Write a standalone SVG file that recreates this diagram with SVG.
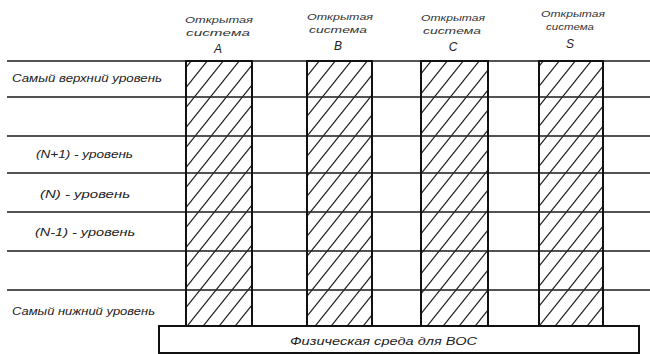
<svg xmlns="http://www.w3.org/2000/svg" width="650" height="354" viewBox="0 0 650 354">
  <style>
    .lvl { stroke: #1a1a1a; stroke-width: 1.5; fill: none; }
    .col { fill: url(#hatch); stroke: #111; stroke-width: 2; }
    .lab { font-family: "Liberation Sans", "DejaVu Sans", sans-serif; font-style: italic; font-size: 10px; fill: #222; }
    .hdr { font-family: "Liberation Sans", "DejaVu Sans", sans-serif; font-style: italic; font-size: 9px; fill: #333; text-anchor: middle; }
    .let { font-family: "Liberation Sans", "DejaVu Sans", sans-serif; font-style: italic; font-size: 12px; fill: #222; text-anchor: middle; }
    .box { fill: #fff; stroke: #111; stroke-width: 2; }
  </style>
  <defs>
    <pattern id="hatch" patternUnits="userSpaceOnUse" width="16" height="20">
      <path d="M-4,25 L20,-5 M-20,25 L4,-5 M12,25 L36,-5" stroke="#222" stroke-width="1.2" fill="none"/>
    </pattern>
  </defs>
  <rect x="0" y="0" width="650" height="354" fill="#fff"/>

  <g id="levels">
    <line class="lvl" x1="7" y1="61" x2="650" y2="61"/>
    <line class="lvl" x1="7" y1="97" x2="650" y2="97"/>
    <line class="lvl" x1="7" y1="136" x2="650" y2="136"/>
    <line class="lvl" x1="7" y1="173" x2="650" y2="173"/>
    <line class="lvl" x1="7" y1="212" x2="650" y2="212"/>
    <line class="lvl" x1="7" y1="251" x2="650" y2="251"/>
    <line class="lvl" x1="7" y1="290" x2="650" y2="290"/>
  </g>

  <g id="level-labels">
    <text class="lab" x="12" y="82" textLength="150" lengthAdjust="spacingAndGlyphs">Самый верхний уровень</text>
    <text class="lab" x="36" y="158" textLength="97" lengthAdjust="spacingAndGlyphs">(N+1) - уровень</text>
    <text class="lab" x="40" y="198" textLength="90" lengthAdjust="spacingAndGlyphs">(N) - уровень</text>
    <text class="lab" x="35" y="236" textLength="100" lengthAdjust="spacingAndGlyphs">(N-1) - уровень</text>
    <text class="lab" x="12" y="315" textLength="143" lengthAdjust="spacingAndGlyphs">Самый нижний уровень</text>
  </g>

  <g id="system-a">
    <rect class="col" x="186" y="61" width="66" height="265"/>
    <text class="hdr" x="219" y="23" textLength="68" lengthAdjust="spacingAndGlyphs">Открытая</text>
    <text class="hdr" x="218" y="36" textLength="64" lengthAdjust="spacingAndGlyphs">система</text>
    <text class="let" x="218" y="53">A</text>
  </g>
  <g id="system-b">
    <rect class="col" x="307" y="61" width="65" height="265"/>
    <text class="hdr" x="340" y="20" textLength="66" lengthAdjust="spacingAndGlyphs">Открытая</text>
    <text class="hdr" x="338" y="33" textLength="58" lengthAdjust="spacingAndGlyphs">система</text>
    <text class="let" x="338" y="50">B</text>
  </g>
  <g id="system-c">
    <rect class="col" x="421" y="61" width="67" height="265"/>
    <text class="hdr" x="453" y="21" textLength="64" lengthAdjust="spacingAndGlyphs">Открытая</text>
    <text class="hdr" x="452" y="34" textLength="58" lengthAdjust="spacingAndGlyphs">система</text>
    <text class="let" x="453" y="51">C</text>
  </g>
  <g id="system-s">
    <rect class="col" x="539" y="61" width="64" height="265"/>
    <text class="hdr" x="573" y="17" textLength="64" lengthAdjust="spacingAndGlyphs">Открытая</text>
    <text class="hdr" x="570" y="30" textLength="48" lengthAdjust="spacingAndGlyphs">система</text>
    <text class="let" x="570" y="48">S</text>
  </g>

  <g id="physical-medium">
    <rect class="box" x="159" y="326" width="480" height="27"/>
    <text class="lab" x="290" y="345" textLength="187" lengthAdjust="spacingAndGlyphs">Физическая среда для ВОС</text>
  </g>
</svg>
